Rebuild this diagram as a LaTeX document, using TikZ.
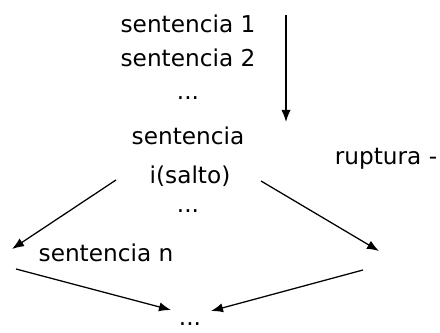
\documentclass[tikz,border=0pt]{standalone}
\usepackage{fontspec}
\setmainfont{DejaVu Sans}
\usetikzlibrary{arrows.meta}
\tikzset{
  every path/.style={line width=0.9pt},
  sent/.style={anchor=base,inner sep=0pt,font=\fontsize{16.5}{19}\selectfont},
  flow/.style={draw,-{Latex[length=3mm,width=2.3mm]}}
}

\begin{document}
\begin{tikzpicture}[x=0.025cm,y=-0.025cm]
  \useasboundingbox (0,0) rectangle (440,333);
  \node[sent] (s1) at (188,33) {sentencia 1};
  \node[sent] (s2) at (188,67) {sentencia 2};
  \node[sent] (d1) at (188,100) {...};
  \node[sent] (si) at (188,145) {sentencia};
  \node[sent] (salto) at (190,184) {i(salto)};
  \node[sent] (d2) at (188,213) {...};
  \node[sent] (sn) at (106,262) {sentencia n};
  \node[sent] (rup) at (386,165) {ruptura -};
  \node[sent] (d3) at (190,326) {...};

  % free ends of the arrows
  \coordinate (top) at (286,15);
  \coordinate (seq) at (286,122);
  \coordinate (la) at (116,180);
  \coordinate (lb) at (12,249);
  \coordinate (ra) at (261,181);
  \coordinate (rb) at (379,251);
  \coordinate (lc) at (16,269);
  \coordinate (rc) at (363,270);
  \coordinate (jl) at (171,310);
  \coordinate (jr) at (211,311);

  \draw[flow] (top) -- (seq);
  \draw[flow] (la) -- (lb);
  \draw[flow] (ra) -- (rb);
  \draw[flow] (lc) -- (jl);
  \draw[flow] (rc) -- (jr);
\end{tikzpicture}
\end{document}
